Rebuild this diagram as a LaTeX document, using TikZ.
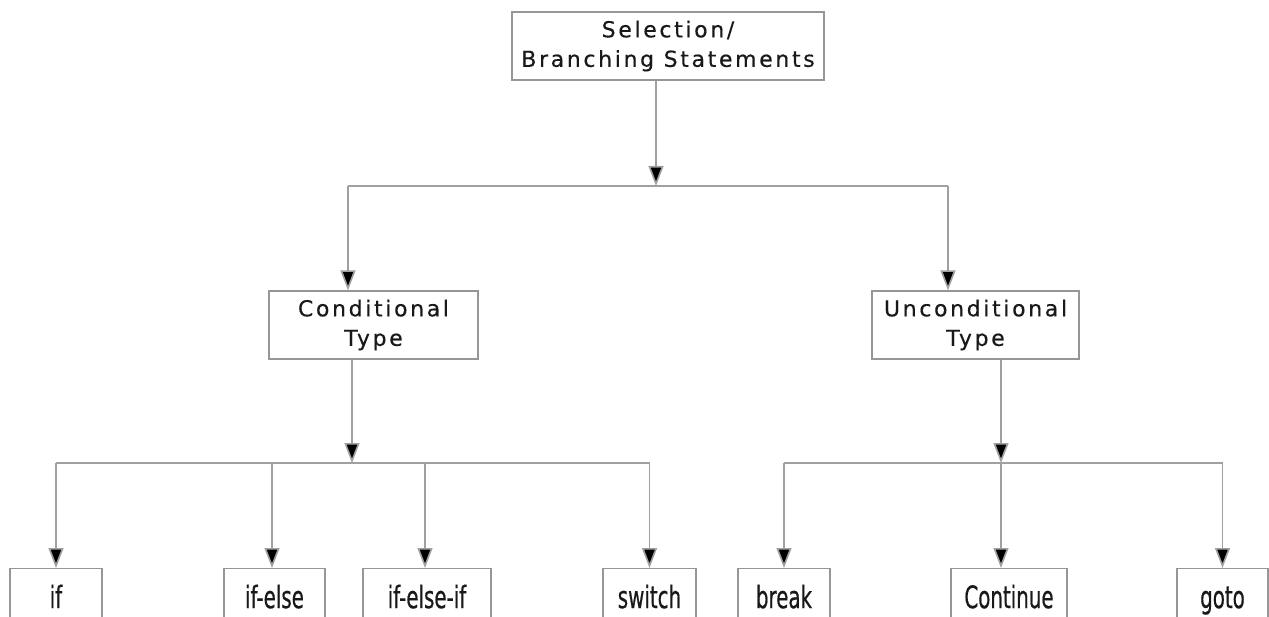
\documentclass[tikz,border=0pt]{standalone}
\usepackage{fontspec}
\setmainfont{DejaVu Sans}
\newfontfamily\headfont[LetterSpace=12,FakeBold=0.3]{DejaVu Sans}
\newfontfamily\leaffont[FakeStretch=0.64,FakeBold=0.5]{DejaVu Sans}
\usetikzlibrary{arrows.meta}
\definecolor{boxline}{RGB}{150,150,150}
\definecolor{wire}{RGB}{160,160,160}
\definecolor{ink}{RGB}{25,25,25}
\tikzset{
  headbox/.style={draw=boxline, line width=1.3pt, fill=white, inner sep=0pt,
    minimum height=68pt, align=center, text=ink,
    font=\headfont\fontsize{22}{29.5}\selectfont},
  leafbox/.style={draw=boxline, line width=1.3pt, fill=white, inner sep=0pt,
    minimum height=56pt, anchor=north, text=ink,
    text height=23pt, text depth=0pt,
    font=\leaffont\fontsize{31}{31}\selectfont},
  wireline/.style={draw=wire, line width=1.6pt},
  feed/.style={wireline, -{Triangle[length=20pt,width=15pt,fill=black]}},
}
\begin{document}
\begin{tikzpicture}[x=1pt,y=-1pt]
\clip (0,0) rectangle (1269,617);
\fill[white] (0,0) rectangle (1269,617);

% top level and the two statement families
\node[headbox, minimum width=312pt] (root) at (668,46)
  {Selection/\\Branching Statements};
\node[headbox, minimum width=209pt] (cond) at (373.5,325)
  {Conditional\\Type};
\node[headbox, minimum width=207pt] (uncond) at (975.5,325)
  {Unconditional\\Type};

% leaf statements (lower edges run off the page)
\node[leafbox, minimum width=92pt]  (sif)      at (56,568)    {if};
\node[leafbox, minimum width=101pt] (sifelse)  at (274.5,568) {if-else};
\node[leafbox, minimum width=128pt] (sifelif)  at (427,568)   {if-else-if};
\node[leafbox, minimum width=93pt]  (sswitch)  at (649.5,568) {switch};
\node[leafbox, minimum width=92pt]  (sbreak)   at (784,568)   {break};
\node[leafbox, minimum width=116pt] (scont)    at (1009,568)  {Continue};
\node[leafbox, minimum width=91pt]  (sgoto)    at (1222.5,568){goto};

% junction points on the distribution bars
\coordinate (j0) at (656,186);
\coordinate (jc) at (352,463);
\coordinate (ju) at (1001,463);
\coordinate (c0l) at (348,186);
\coordinate (c0r) at (948,186);

% root to its bar
\draw[feed] (root.south -| j0) -- (j0);
\draw[wireline] (c0l) -- (c0r);
\draw[feed] (c0l) -- (cond.north -| c0l);
\draw[feed] (c0r) -- (uncond.north -| c0r);

% conditional branch
\draw[feed] (cond.south -| jc) -- (jc);
\draw[wireline] (jc -| sif) -- (jc -| sswitch);
\draw[feed] (jc -| sif) -- (sif.north);
\draw[feed] (jc -| 272,0) -- (sifelse.north -| 272,0);
\draw[feed] (jc -| 425,0) -- (sifelif.north -| 425,0);
\draw[feed] (jc -| sswitch) -- (sswitch.north);

% unconditional branch
\draw[feed] (uncond.south -| ju) -- (ju);
\draw[wireline] (ju -| sbreak) -- (ju -| sgoto);
\draw[feed] (ju -| sbreak) -- (sbreak.north);
\draw[feed] (ju) -- (scont.north -| ju);
\draw[feed] (ju -| sgoto) -- (sgoto.north);
\end{tikzpicture}
\end{document}
